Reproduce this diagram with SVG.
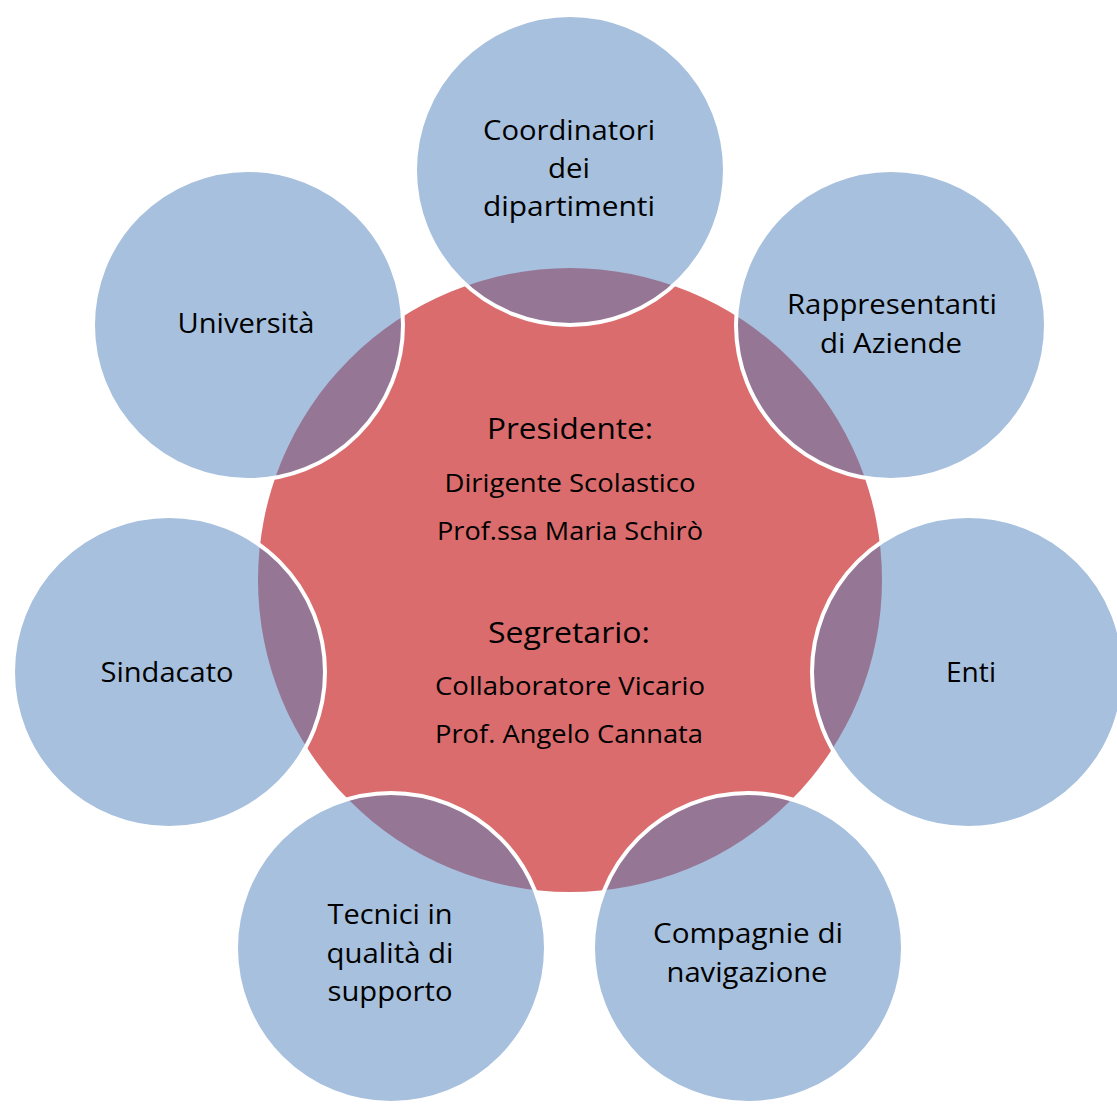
<svg xmlns="http://www.w3.org/2000/svg" width="1117" height="1104" viewBox="0 0 1117 1104">
<style>
.bg{fill:#ffffff}
.center{fill:#DA6C6D}
.sat{fill:#4F81BD;fill-opacity:0.5;stroke:#ffffff;stroke-width:4}
text{font-family:"Open Sans","Noto Sans",sans-serif;fill:#000000;text-anchor:middle}
.t{font-size:27px}
.h{font-size:30px}
.s{font-size:25px}
</style>
<rect class="bg" x="0" y="0" width="1117" height="1104"/>
<g id="center-node">
<circle class="center" cx="570" cy="580" r="312"/>
<text class="h" x="570" y="439" textLength="166" lengthAdjust="spacingAndGlyphs">Presidente:</text>
<text class="s" x="570" y="492" textLength="251" lengthAdjust="spacingAndGlyphs">Dirigente Scolastico</text>
<text class="s" x="570" y="540" textLength="266" lengthAdjust="spacingAndGlyphs">Prof.ssa Maria Schirò</text>
<text class="h" x="569" y="643" textLength="162" lengthAdjust="spacingAndGlyphs">Segretario:</text>
<text class="s" x="570" y="695" textLength="270" lengthAdjust="spacingAndGlyphs">Collaboratore Vicario</text>
<text class="s" x="569" y="743" textLength="268" lengthAdjust="spacingAndGlyphs">Prof. Angelo Cannata</text>
</g>
<g id="connectors"></g>
<g id="node-coordinatori">
<circle class="sat" cx="570" cy="170" r="155"/>
<text class="t" x="569" y="140" textLength="172" lengthAdjust="spacingAndGlyphs">Coordinatori</text>
<text class="t" x="569" y="178" textLength="42" lengthAdjust="spacingAndGlyphs">dei</text>
<text class="t" x="569" y="216" textLength="172" lengthAdjust="spacingAndGlyphs">dipartimenti</text>
</g>
<g id="node-rappresentanti">
<circle class="sat" cx="891" cy="325" r="155"/>
<text class="t" x="892" y="314" textLength="210" lengthAdjust="spacingAndGlyphs">Rappresentanti</text>
<text class="t" x="891" y="353" textLength="142" lengthAdjust="spacingAndGlyphs">di Aziende</text>
</g>
<g id="node-enti">
<circle class="sat" cx="968" cy="672" r="156"/>
<text class="t" x="971" y="682" textLength="50" lengthAdjust="spacingAndGlyphs">Enti</text>
</g>
<g id="node-compagnie">
<circle class="sat" cx="748" cy="948" r="155"/>
<text class="t" x="748" y="943" textLength="190" lengthAdjust="spacingAndGlyphs">Compagnie di</text>
<text class="t" x="747" y="982" textLength="161" lengthAdjust="spacingAndGlyphs">navigazione</text>
</g>
<g id="node-tecnici">
<circle class="sat" cx="391" cy="948" r="155"/>
<text class="t" x="390" y="924" textLength="125" lengthAdjust="spacingAndGlyphs">Tecnici in</text>
<text class="t" x="390" y="963" textLength="127" lengthAdjust="spacingAndGlyphs">qualità di</text>
<text class="t" x="390" y="1001" textLength="125" lengthAdjust="spacingAndGlyphs">supporto</text>
</g>
<g id="node-sindacato">
<circle class="sat" cx="169" cy="672" r="156"/>
<text class="t" x="167" y="682" textLength="133" lengthAdjust="spacingAndGlyphs">Sindacato</text>
</g>
<g id="node-universita">
<circle class="sat" cx="248" cy="325" r="155"/>
<text class="t" x="246" y="333" textLength="137" lengthAdjust="spacingAndGlyphs">Università</text>
</g>
</svg>
